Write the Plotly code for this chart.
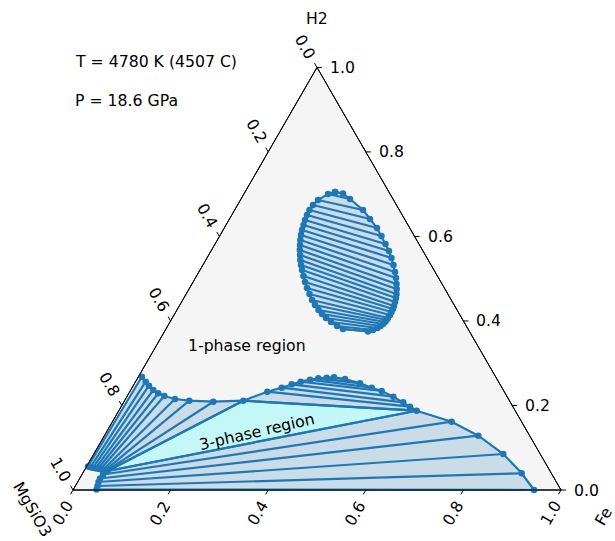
import numpy as np
import plotly.graph_objects as go

# ---------------- data (compositions: Fe fraction, H2 fraction; MgSiO3 = 1 - Fe - H2) -------------
# upper isolated two-phase region (tie-line end points)
blob_left_fe = [0.1843, 0.1723, 0.1589, 0.1546, 0.1533, 0.1541, 0.1559, 0.1588, 0.1617, 0.1655, 0.1700,
                0.1753, 0.1808, 0.1872, 0.1937, 0.2010, 0.2090, 0.2191, 0.2293, 0.2405, 0.2527, 0.2650,
                0.2770, 0.2901, 0.3020, 0.3149, 0.3299, 0.3470, 0.3628]
blob_left_h2 = [0.7052, 0.7004, 0.6862, 0.6744, 0.6626, 0.6507, 0.6389, 0.6271, 0.6152, 0.6034, 0.5916,
                0.5797, 0.5679, 0.5561, 0.5442, 0.5324, 0.5206, 0.5064, 0.4922, 0.4780, 0.4638, 0.4496,
                0.4378, 0.4259, 0.4165, 0.4070, 0.3975, 0.3881, 0.3810]
blob_right_fe = [0.2025, 0.2233, 0.2630, 0.2880, 0.3130, 0.3317, 0.3493, 0.3647, 0.3782, 0.3906, 0.4019,
                 0.4111, 0.4192, 0.4255, 0.4310, 0.4347, 0.4374, 0.4401, 0.4415, 0.4421, 0.4425, 0.4420,
                 0.4413, 0.4405, 0.4388, 0.4361, 0.4323, 0.4255, 0.4170]
blob_right_h2 = [0.7016, 0.6886, 0.6626, 0.6413, 0.6200, 0.6010, 0.5821, 0.5655, 0.5490, 0.5324, 0.5159,
                 0.5017, 0.4875, 0.4756, 0.4638, 0.4543, 0.4449, 0.4354, 0.4283, 0.4212, 0.4141, 0.4070,
                 0.4023, 0.3975, 0.3928, 0.3881, 0.3833, 0.3786, 0.3751]

# left fan (MgSiO3-rich side)
fan_upper_fe = [0.0070, 0.0208, 0.0323, 0.0463, 0.0604, 0.0759, 0.1013, 0.1326, 0.1830, 0.2433]
fan_upper_h2 = [0.2681, 0.2563, 0.2468, 0.2366, 0.2288, 0.2224, 0.2153, 0.2113, 0.2089, 0.2113]
fan_lower_fe = [0.0029, 0.0089, 0.0147, 0.0204, 0.0261, 0.0319, 0.0376, 0.0423, 0.0458, 0.0482]
fan_lower_h2 = [0.0556, 0.0540, 0.0525, 0.0513, 0.0502, 0.0490, 0.0478, 0.0466, 0.0457, 0.0450]

# dome above the three-phase triangle
dome_left_fe = [0.2433, 0.2819, 0.3067, 0.3231, 0.3385, 0.3552, 0.3705, 0.3870]
dome_left_h2 = [0.2113, 0.2326, 0.2421, 0.2501, 0.2563, 0.2610, 0.2643, 0.2657]
dome_right_fe = [0.6105, 0.5920, 0.5730, 0.5460, 0.5155, 0.4911, 0.4619, 0.4261]
dome_right_h2 = [0.1876, 0.1971, 0.2075, 0.2208, 0.2343, 0.2421, 0.2525, 0.2627]
dome_top_fe = [0.4015]
dome_top_h2 = [0.2667]

# bottom fan (Fe-rich side)
bot_left_fe = [0.0482, 0.0432, 0.0417, 0.0428, 0.0455, 0.0476]
bot_left_h2 = [0.0450, 0.0367, 0.0272, 0.0189, 0.0095, 0.0012]
bot_right_fe = [0.6105, 0.6952, 0.7663, 0.8392, 0.8997, 0.9447]
bot_right_h2 = [0.1876, 0.1616, 0.1285, 0.0852, 0.0395, 0.0000]

# three-phase triangle
tri3_fe = [0.0482, 0.2433, 0.6105]
tri3_h2 = [0.0450, 0.2113, 0.1876]

tick_vals = [0.0, 0.2, 0.4, 0.6, 0.8, 1.0]
tick_text = ["0.0", "0.2", "0.4", "0.6", "0.8", "1.0"]

# ---------------- helpers ----------------
S3 = np.sqrt(3) / 2
BLUE = "#1f77b4"
FILL = "rgba(31,119,180,0.2)"
CYAN = "rgba(0,255,255,0.2)"
FONT = dict(family="DejaVu Sans", size=15.7, color="black")
LW = 2.2


def tx(fe, h2):
    return list(np.asarray(fe, float) + np.asarray(h2, float) / 2)


def ty(h2):
    return list(np.asarray(h2, float) * S3)


fig = go.Figure()


def polygon(fe, h2, color):
    fe = list(fe) + [fe[0]]
    h2 = list(h2) + [h2[0]]
    fig.add_trace(go.Scatter(x=tx(fe, h2), y=ty(h2), mode="lines", fill="toself",
                             fillcolor=color, line=dict(width=0), hoverinfo="skip",
                             showlegend=False))


def ties(fe1, h21, fe2, h22, width=LW):
    xs, ys = [], []
    for a, b, c, d in zip(fe1, h21, fe2, h22):
        xs += tx([a, c], [b, d]) + [None]
        ys += ty([b, d]) + [None]
    fig.add_trace(go.Scatter(x=xs, y=ys, mode="lines", line=dict(color=BLUE, width=width),
                             hoverinfo="skip", showlegend=False))


def curve(fe, h2, closed=False):
    fe = list(fe); h2 = list(h2)
    if closed:
        fe.append(fe[0]); h2.append(h2[0])
    fig.add_trace(go.Scatter(x=tx(fe, h2), y=ty(h2), mode="lines+markers",
                             line=dict(color=BLUE, width=LW),
                             marker=dict(color=BLUE, size=6.5), hoverinfo="skip",
                             showlegend=False))


# triangle background
corner_fe = [0, 1, 0, 0]
corner_h2 = [0, 0, 1, 0]
fig.add_trace(go.Scatter(x=tx(corner_fe, corner_h2), y=ty(corner_h2), mode="lines",
                         fill="toself", fillcolor="#f5f5f5", line=dict(color="black", width=1),
                         hoverinfo="skip", showlegend=False))

# filled regions
polygon(blob_left_fe + blob_right_fe[::-1], blob_left_h2 + blob_right_h2[::-1], FILL)
polygon(fan_upper_fe + fan_lower_fe[::-1], fan_upper_h2 + fan_lower_h2[::-1], FILL)
polygon(dome_left_fe + dome_top_fe + dome_right_fe[::-1], dome_left_h2 + dome_top_h2 + dome_right_h2[::-1], FILL)
polygon(bot_left_fe + bot_right_fe[::-1], bot_left_h2 + bot_right_h2[::-1], FILL)
polygon(tri3_fe, tri3_h2, CYAN)

# tie lines
ties(blob_left_fe, blob_left_h2, blob_right_fe, blob_right_h2)
ties(fan_upper_fe, fan_upper_h2, fan_lower_fe, fan_lower_h2)
ties(dome_left_fe, dome_left_h2, dome_right_fe, dome_right_h2)
ties(bot_left_fe, bot_left_h2, bot_right_fe, bot_right_h2)
ties(tri3_fe + [tri3_fe[0]], tri3_h2 + [tri3_h2[0]], tri3_fe[1:] + tri3_fe[:1], tri3_h2[1:] + tri3_h2[:1])

# phase boundaries with markers
curve(blob_left_fe + blob_right_fe[::-1], blob_left_h2 + blob_right_h2[::-1], closed=True)
curve(fan_upper_fe[:-1] + dome_left_fe + dome_top_fe + dome_right_fe[::-1] + bot_right_fe[1:],
      fan_upper_h2[:-1] + dome_left_h2 + dome_top_h2 + dome_right_h2[::-1] + bot_right_h2[1:])
curve(fan_lower_fe + bot_left_fe[1:], fan_lower_h2 + bot_left_h2[1:])

# triangle outline on top
fig.add_trace(go.Scatter(x=tx(corner_fe, corner_h2), y=ty(corner_h2), mode="lines",
                         line=dict(color="black", width=1), hoverinfo="skip", showlegend=False))

# ticks and tick labels
TL = 5 / 488
tkx, tky = [], []
ann = []
for t, lab in zip(tick_vals, tick_text):
    # Fe (bottom)
    bx, by = t, 0.0
    tkx += [bx, bx - 0.5 * TL, None]; tky += [by, by - S3 * TL, None]
    ann.append(dict(x=bx, y=by, text=lab, textangle=-60, xshift=-11, yshift=-23))
    # H2 (right)
    bx, by = 1 - t / 2, t * S3
    tkx += [bx, bx + TL, None]; tky += [by, by, None]
    ann.append(dict(x=bx, y=by, text=lab, xanchor="left", xshift=11, yshift=0))
    # MgSiO3 (left)
    bx, by = (1 - t) / 2, (1 - t) * S3
    tkx += [bx, bx - 0.5 * TL, None]; tky += [by, by + S3 * TL, None]
    ann.append(dict(x=bx, y=by, text=lab, textangle=60, xshift=-12, yshift=21))

fig.add_trace(go.Scatter(x=tkx, y=tky, mode="lines", line=dict(color="black", width=1),
                         hoverinfo="skip", showlegend=False))

# axis titles
ann.append(dict(x=0.5, y=S3, text="H2", xshift=0, yshift=49))
ann.append(dict(x=0.0, y=0.0, text="MgSiO3", textangle=60, xshift=-40, yshift=-19))
ann.append(dict(x=1.0, y=0.0, text="Fe", textangle=-60, xshift=42, yshift=-26))

# region labels
ann.append(dict(x=0.3566, y=0.2971, text="1-phase region"))
ann.append(dict(x=0.377, y=0.120, text="3-phase region", textangle=-13))

for a in ann:
    a.setdefault("xanchor", "center")
    a.setdefault("yanchor", "middle")
    fig.add_annotation(showarrow=False, font=FONT, xref="x", yref="y", **a)

fig.add_annotation(x=73 / 615, y=1 - 61.7 / 541, xref="paper", yref="paper", text="T = 4780 K (4507 C)",
                   showarrow=False, xanchor="left", yanchor="middle", font=FONT)
fig.add_annotation(x=73 / 615, y=1 - 100.7 / 541, xref="paper", yref="paper", text="P = 18.6 GPa",
                   showarrow=False, xanchor="left", yanchor="middle", font=FONT)

fig.update_layout(
    width=615, height=541,
    margin=dict(l=0, r=0, t=0, b=0),
    paper_bgcolor="white", plot_bgcolor="white",
    xaxis=dict(range=[-73 / 488, (615 - 73) / 488], visible=False, fixedrange=True),
    yaxis=dict(range=[(490 - 541) / 488, 490 / 488], visible=False, fixedrange=True),
    showlegend=False,
)

fig.write_html("out.html")
